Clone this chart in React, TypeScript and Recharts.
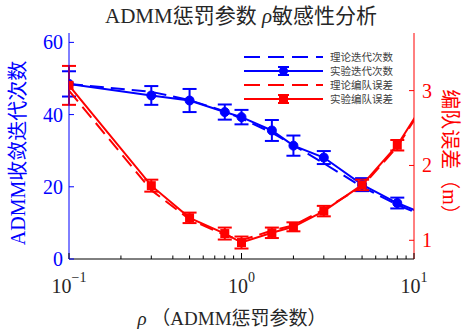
import { ComposedChart, Line, XAxis, YAxis, ErrorBar, Legend } from 'recharts'

const RHO = [0.1, 0.3, 0.5, 0.8, 1, 1.5, 2, 3, 5, 8, 15]
const ITER_THEORY = [48.5, 46.3, 44.0, 40.9, 38.9, 35.0, 31.5, 26.5, 20.0, 15.0, 9.6]
const ITER_EXP = [48.5, 45.3, 43.9, 40.7, 39.3, 35.6, 31.4, 28.1, 20.6, 15.5, 10.2]
const ITER_STD = [3.5, 2.6, 3.2, 2.1, 2.0, 2.9, 2.8, 1.8, 1.8, 1.5, null]
const ERR_THEORY = [3.0, 1.67, 1.28, 1.07, 1.0, 1.13, 1.2, 1.41, 1.72, 2.25, 3.24]
const ERR_EXP = [3.07, 1.73, 1.30, 1.09, 0.97, 1.10, 1.18, 1.39, 1.74, 2.27, 3.26]
const ERR_STD = [0.26, 0.08, 0.07, 0.08, 0.08, 0.07, 0.06, 0.07, 0.07, 0.07, null]

const X_MAJOR = [0.1, 1, 10]
const X_TICKS = [0.1, 0.2, 0.3, 0.4, 0.5, 0.6, 0.7, 0.8, 0.9, 1, 2, 3, 4, 5, 6, 7, 8, 9, 10]
const LEFT_TICKS = [0, 20, 40, 60]
const RIGHT_TICKS = [1, 2, 3]
const LEGEND_ORDER = ['iterTheory', 'iterExp', 'errTheory', 'errExp']

const BLUE = '#0000ff'
const RED = '#ff0000'
const TEXT = '#262626'
const FONT = '"Liberation Serif", "Noto Sans CJK SC", serif'
const CJK = '"Liberation Serif", "Noto Sans CJK SC", sans-serif'

const data = RHO.map((rho, i) => ({
  rho,
  iterTheory: ITER_THEORY[i],
  iterExp: ITER_EXP[i],
  iterStd: ITER_STD[i],
  errTheory: ERR_THEORY[i],
  errExp: ERR_EXP[i],
  errStd: ERR_STD[i],
}))

const EXPONENT: Record<number, string> = { 0.1: '\u22121', 1: '0', 10: '1' }

function XTick(props: any) {
  const { x, y, payload, side } = props
  const v = payload.value
  const major = X_MAJOR.includes(v)
  const len = major ? 6 : 3.5
  const dir = side === 'top' ? 1 : -1
  return (
    <g>
      <line x1={x} y1={y} x2={x} y2={y + dir * len} stroke="#000" strokeWidth={1} />
      {side !== 'top' && major && (
        <text x={x} y={y + 34} textAnchor="middle" fill={TEXT} fontFamily={FONT}>
          <tspan fontSize={20}>10</tspan>
          <tspan fontSize={14} dy={-11}>{EXPONENT[v]}</tspan>
        </text>
      )}
    </g>
  )
}

function YTick(props: any) {
  const { x, y, payload, side, color } = props
  const dir = side === 'right' ? -1 : 1
  return (
    <g>
      <line x1={x} y1={y} x2={x + dir * 5} y2={y} stroke={color} strokeWidth={1} />
      <text
        x={side === 'right' ? x + 8 : x - 6}
        y={y}
        dy="0.35em"
        textAnchor={side === 'right' ? 'start' : 'end'}
        fill={color}
        fontSize={20}
        fontFamily={FONT}
      >
        {payload.value}
      </text>
    </g>
  )
}

function SquareDot(props: any) {
  const { cx, cy, index } = props
  if (cx == null || cy == null) return <g key={`sq-${index}`} />
  return <rect key={`sq-${index}`} x={cx - 4.5} y={cy - 4.5} width={9} height={9} fill={RED} />
}

function LegendContent(props: any) {
  const items = [...(props.payload || [])].sort(
    (a: any, b: any) => LEGEND_ORDER.indexOf(a.dataKey) - LEGEND_ORDER.indexOf(b.dataKey)
  )
  return (
    <svg width={170} height={58}>
      {items.map((item: any, i: number) => {
        const y = 8 + i * 14
        const dashed = !!item.payload?.strokeDasharray
        const color = item.color
        const isIter = item.dataKey === 'iterExp'
        return (
          <g key={item.value}>
            <line x1={4} y1={y} x2={83} y2={y} stroke={color} strokeWidth={2} strokeDasharray={dashed ? '16 8' : undefined} />
            {!dashed && (
              <g>
                <line x1={43.5} y1={y - 4} x2={43.5} y2={y + 4} stroke={color} strokeWidth={2} />
                <line x1={38} y1={y - 4} x2={49} y2={y - 4} stroke={color} strokeWidth={2} />
                <line x1={38} y1={y + 4} x2={49} y2={y + 4} stroke={color} strokeWidth={2} />
                {isIter ? (
                  <circle cx={43.5} cy={y} r={4.5} fill={color} />
                ) : (
                  <rect x={39} y={y - 4.5} width={9} height={9} fill={color} />
                )}
              </g>
            )}
            <text x={90} y={y} dy="0.35em" fontSize={10.5} fill="#404040" fontFamily={CJK}>
              {item.value}
            </text>
          </g>
        )
      })}
    </svg>
  )
}

export default function App() {
  return (
    <div style={{ position: 'absolute', left: 0, top: 0 }}>
      <ComposedChart width={463} height={335} data={data} margin={{ top: 33, right: 9, bottom: 26, left: 9 }}>
        <XAxis
          xAxisId="bottom"
          dataKey="rho"
          type="number"
          scale="log"
          domain={[0.1, 10]}
          allowDataOverflow
          ticks={X_TICKS}
          interval={0}
          tick={<XTick side="bottom" />}
          tickLine={false}
          tickSize={0}
          tickMargin={0}
          stroke="#000"
          height={50}
        />
        <XAxis
          xAxisId="top"
          orientation="top"
          dataKey="rho"
          type="number"
          scale="log"
          domain={[0.1, 10]}
          allowDataOverflow
          ticks={X_TICKS}
          interval={0}
          tick={<XTick side="top" />}
          tickLine={false}
          tickSize={0}
          tickMargin={0}
          stroke="#000"
          height={0}
        />
        <YAxis
          yAxisId="left"
          type="number"
          domain={[0, 62.6]}
          allowDataOverflow
          ticks={LEFT_TICKS}
          interval={0}
          tick={<YTick side="left" color={BLUE} />}
          tickLine={false}
          tickSize={0}
          tickMargin={0}
          stroke={BLUE}
          width={60}
        />
        <YAxis
          yAxisId="right"
          orientation="right"
          type="number"
          domain={[0.75, 3.77]}
          allowDataOverflow
          ticks={RIGHT_TICKS}
          interval={0}
          tick={<YTick side="right" color={RED} />}
          tickLine={false}
          tickSize={0}
          tickMargin={0}
          stroke={RED}
          width={40}
        />
        <Legend
          layout="horizontal"
          verticalAlign="middle"
          align="center"
          content={<LegendContent />}
          wrapperStyle={{ position: 'absolute', left: 240, top: 49, width: 170, height: 58 }}
        />
        <Line
          xAxisId="bottom"
          yAxisId="left"
          dataKey="iterTheory"
          name="理论迭代次数"
          stroke={BLUE}
          strokeWidth={2}
          strokeDasharray="14 7"
          dot={false}
          activeDot={false}
          isAnimationActive={false}
        />
        <Line
          xAxisId="bottom"
          yAxisId="left"
          dataKey="iterExp"
          name="实验迭代次数"
          stroke={BLUE}
          strokeWidth={2}
          dot={{ r: 4.5, fill: BLUE, stroke: BLUE, strokeWidth: 1 }}
          activeDot={false}
          isAnimationActive={false}
        >
          <ErrorBar dataKey="iterStd" direction="y" width={7} stroke={BLUE} strokeWidth={2} isAnimationActive={false} />
        </Line>
        <Line
          xAxisId="bottom"
          yAxisId="right"
          dataKey="errTheory"
          name="理论编队误差"
          stroke={RED}
          strokeWidth={2}
          strokeDasharray="14 7"
          dot={false}
          activeDot={false}
          isAnimationActive={false}
        />
        <Line
          xAxisId="bottom"
          yAxisId="right"
          dataKey="errExp"
          name="实验编队误差"
          stroke={RED}
          strokeWidth={2}
          dot={SquareDot}
          activeDot={false}
          isAnimationActive={false}
        >
          <ErrorBar dataKey="errStd" direction="y" width={7} stroke={RED} strokeWidth={2} isAnimationActive={false} />
        </Line>
        <text x={241} y={23} textAnchor="middle" fill={TEXT} fontSize={21} fontFamily={CJK}>
          ADMM惩罚参数 <tspan fontStyle="italic" fontFamily={FONT}>ρ</tspan>敏感性分析
        </text>
        <text x={232} y={325} textAnchor="middle" fill={TEXT} fontSize={19} fontFamily={CJK}>
          <tspan fontStyle="italic" fontFamily={FONT}>ρ</tspan> （ADMM惩罚参数）
        </text>
        <text
          x={18}
          y={153}
          textAnchor="middle"
          dy="0.35em"
          fill={BLUE}
          fontSize={20}
          fontFamily={CJK}
          transform="rotate(-90 18 153)"
        >
          ADMM收敛迭代次数
        </text>
        <text
          x={450}
          y={157}
          textAnchor="middle"
          dy="0.35em"
          fill={RED}
          fontSize={20}
          fontFamily={CJK}
          transform="rotate(90 450 157)"
        >
          编队误差（m）
        </text>
      </ComposedChart>
    </div>
  )
}
